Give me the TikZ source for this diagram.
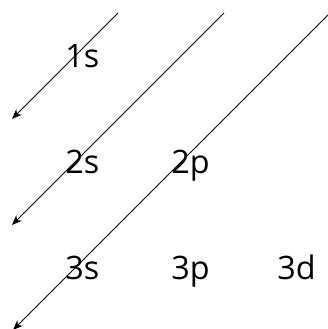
\documentclass[tikz,border=0pt]{standalone}
\usepackage{fontspec}
\setmainfont{Open Sans}
\usetikzlibrary{arrows.meta,positioning}
\tikzset{
	-{Stealth[length=7pt,width=5.5pt,inset=2pt]},line width=0.6pt,
	orb/.style ={inner sep=0pt, anchor=base west, font=\fontsize{23}{23}\selectfont},
	diag/.style = {line width=0.65pt}
}
\begin{document}
\begin{tikzpicture}[x=0.025cm,y=-0.025cm]
    \useasboundingbox (0,0) rectangle (328,329);

    \node[orb] (1s) at (65,67) {1s};
    \node[orb] (2s) at (65,173) {2s};
    \node[orb] (2p) at (171,173) {2p};
    \node[orb] (3s) at (65,279) {3s};
    \node[orb] (3p) at (171,279) {3p};
    \node[orb] (3d) at (277,279) {3d};

    \coordinate (t1) at (118,13);
    \coordinate (h1) at (12,119);
    \coordinate (t2) at (224,13);
    \coordinate (h2) at (12,225);
    \coordinate (t3) at (330,13);
    \coordinate (h3) at (13,330);

    \path (t1) [diag] edge (h1);
    \path (t2) [diag] edge (h2);
    \path (t3) [diag] edge (h3);

\end{tikzpicture}
\end{document}
